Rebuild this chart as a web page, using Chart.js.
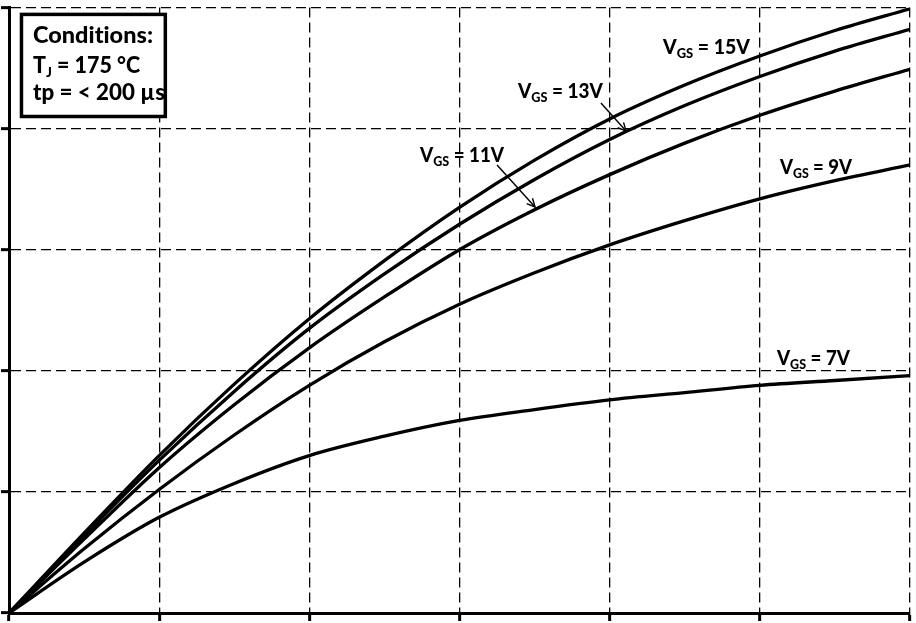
<!DOCTYPE html>
<html><head><meta charset="utf-8">
<script src="https://cdn.jsdelivr.net/npm/chart.js@4/dist/chart.umd.min.js"></script>
<style>html,body{margin:0;padding:0;background:#fff;overflow:hidden}canvas{font-variant-ligatures:none}</style>
</head><body><canvas id="c" width="916" height="623"></canvas>
<script>
// Drain-source voltage (grid units) and drain current (grid units) per gate voltage
const vds  = [0, 0.5, 1, 1.5, 2, 2.5, 3, 3.5, 4, 4.5, 5, 5.5, 6];
const id15 = [0, 0.66, 1.30, 1.89, 2.43, 2.91, 3.35, 3.74, 4.08, 4.36, 4.60, 4.81, 4.99];
const id13 = [0, 0.64, 1.26, 1.83, 2.35, 2.80, 3.21, 3.58, 3.91, 4.19, 4.43, 4.64, 4.82];
const id11 = [0, 0.61, 1.20, 1.72, 2.19, 2.61, 3.00, 3.33, 3.62, 3.88, 4.11, 4.31, 4.49];
const id9  = [0, 0.53, 1.02, 1.47, 1.88, 2.24, 2.55, 2.81, 3.04, 3.24, 3.42, 3.57, 3.70];
const id7  = [0, 0.42, 0.79, 1.07, 1.30, 1.46, 1.59, 1.68, 1.76, 1.82, 1.88, 1.92, 1.96];
const gateLabels = ['15V', '13V', '11V', '9V', '7V'];
const xTicks = [0, 1, 2, 3, 4, 5, 6];
const yTicks = [0, 1, 2, 3, 4, 5];
const condTitle = 'Conditions:';
const condTemp = ['T', 'J', ' = 175 °C'];
const condPulse = 'tp = < 200 µs';

const series = [id15, id13, id11, id9, id7];
const datasets = series.map((arr, i) => ({
  label: 'VGS = ' + gateLabels[i],
  data: vds.map((x, j) => ({x: x, y: arr[j]})),
  borderColor: '#000',
  borderWidth: 3.3,
  pointRadius: 0,
  fill: false,
  cubicInterpolationMode: 'monotone'
}));

const FONT = 'Lato, "Open Sans", "DejaVu Sans", sans-serif';

function drawRich(ctx, segs, x, y, targetW) {
  let w = 0;
  segs.forEach(s => { ctx.font = s.font; s.w = ctx.measureText(s.t).width; w += s.w; });
  const k = targetW ? targetW / w : 1;
  ctx.save();
  ctx.translate(x, y);
  ctx.scale(k, 1);
  let cx = 0;
  segs.forEach(s => { ctx.font = s.font; ctx.fillText(s.t, cx, s.dy || 0); cx += s.w; });
  ctx.restore();
}

function arrow(ctx, x1, y1, x2, y2) {
  ctx.save();
  ctx.strokeStyle = '#000';
  ctx.lineWidth = 1.4;
  ctx.beginPath(); ctx.moveTo(x1, y1); ctx.lineTo(x2, y2); ctx.stroke();
  const a = Math.atan2(y2 - y1, x2 - x1), L = 9, s = 0.45;
  ctx.beginPath();
  ctx.moveTo(x2 - L * Math.cos(a - s), y2 - L * Math.sin(a - s));
  ctx.lineTo(x2, y2);
  ctx.lineTo(x2 - L * Math.cos(a + s), y2 - L * Math.sin(a + s));
  ctx.stroke();
  ctx.restore();
}

const annot = {
  id: 'annot',
  afterDatasetsDraw(chart) {
    const ctx = chart.ctx, xs = chart.scales.x, ys = chart.scales.y;
    const X = v => xs.getPixelForValue(v), Y = v => ys.getPixelForValue(v);
    ctx.save();
    if ('letterSpacing' in ctx) ctx.letterSpacing = '0.01px';
    ctx.fillStyle = '#000';
    ctx.textBaseline = 'alphabetic';
    const big = '900 21px ' + FONT, sub = '900 14px ' + FONT;
    // curve labels: [index, x, y(baseline), width]
    const pos = [[0, 4.355, 4.616, 87], [1, 3.389, 4.250, 85], [2, 2.737, 3.727, 84], [3, 5.134, 3.623, 72], [4, 5.114, 2.048, 73]];
    pos.forEach(p => {
      drawRich(ctx, [
        {t: 'V', font: big},
        {t: 'GS', font: sub, dy: 4},
        {t: ' = ' + gateLabels[p[0]], font: big}
      ], X(p[1]), Y(p[2]), p[3]);
    });
    arrow(ctx, X(3.942), Y(4.211), X(4.109), Y(3.980));
    arrow(ctx, X(3.250), Y(3.699), X(3.503), Y(3.353));

    // conditions box
    const bx1 = X(0.083), by1 = Y(4.943), bx2 = X(1.041), by2 = Y(4.100);
    ctx.fillStyle = '#fff';
    ctx.fillRect(bx1, by1, bx2 - bx1, by2 - by1);
    ctx.strokeStyle = '#000';
    ctx.lineWidth = 3.5;
    ctx.strokeRect(bx1, by1, bx2 - bx1, by2 - by1);
    ctx.fillStyle = '#000';
    const cf = '900 22px ' + FONT, cs = '900 14px ' + FONT;
    const tx = X(0.160);
    drawRich(ctx, [{t: condTitle, font: cf}], tx, Y(4.707), 120);
    drawRich(ctx, [{t: condTemp[0], font: cf}, {t: condTemp[1], font: cs, dy: 4}, {t: condTemp[2], font: cf}], tx, Y(4.462), 107);
    drawRich(ctx, [{t: condPulse, font: cf}], tx, Y(4.237), 132);
    ctx.restore();
  }
};

const gridOpts = {
  color: '#000',
  lineWidth: 1.3,
  drawTicks: true,
  tickLength: 8,
  tickWidth: 3,
  tickColor: '#000',
  tickBorderDash: []
};
const borderOpts = {display: true, color: '#000', width: 3, dash: [10, 5]};

new Chart(document.getElementById('c'), {
  type: 'line',
  data: {datasets},
  options: {
    responsive: false,
    animation: false,
    devicePixelRatio: 1,
    layout: {autoPadding: false, padding: {left: 1, right: 6, top: 7.5, bottom: 2}},
    plugins: {legend: {display: false}, tooltip: {enabled: false}},
    scales: {
      x: {
        type: 'linear', min: 0, max: 6,
        afterBuildTicks: s => { s.ticks = xTicks.map(v => ({value: v})); },
        ticks: {display: false},
        grid: gridOpts,
        border: borderOpts
      },
      y: {
        type: 'linear', min: 0, max: 5,
        afterBuildTicks: s => { s.ticks = yTicks.map(v => ({value: v})); },
        ticks: {display: false},
        grid: gridOpts,
        border: borderOpts
      }
    }
  },
  plugins: [annot]
});
</script>
</body></html>
